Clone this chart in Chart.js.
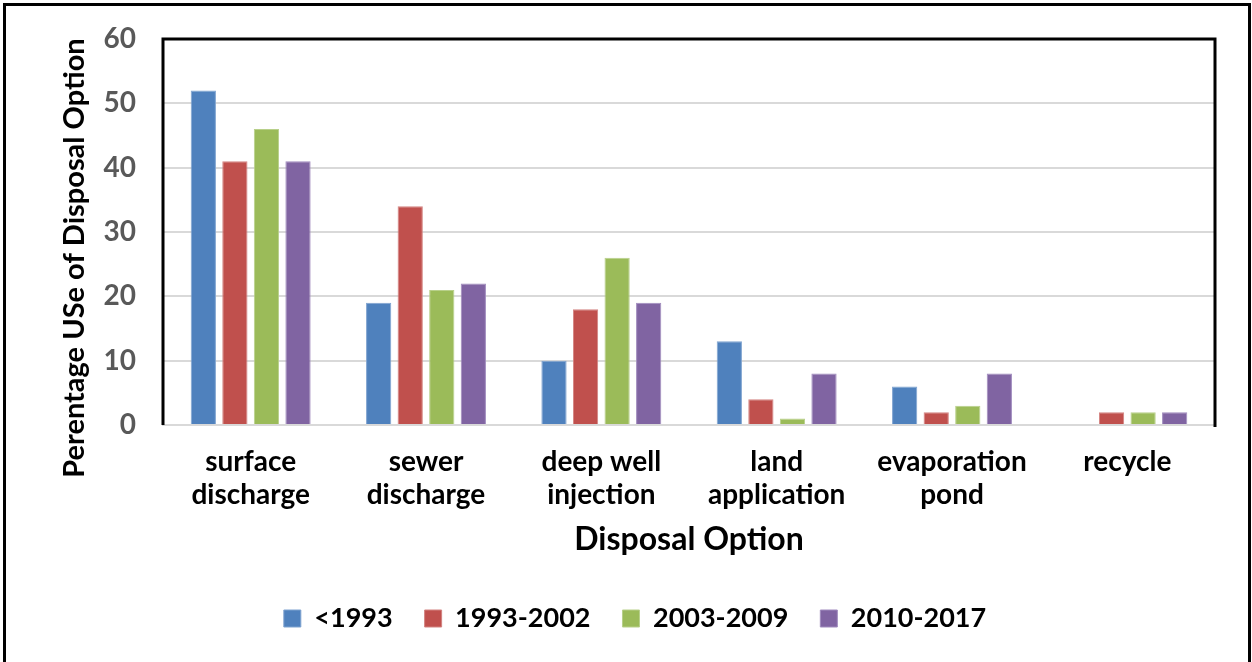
<!DOCTYPE html>
<html>
<head>
<meta charset="utf-8">
<script src="https://cdn.jsdelivr.net/npm/chart.js@4.4.1/dist/chart.umd.min.js"></script>
<style>
  html, body { margin: 0; padding: 0; background: #fff; overflow: hidden; }
  #wrap { position: relative; width: 1252px; height: 662px; }
  #frame { position: absolute; left: 3px; top: 3px; width: 1242px; height: 700px;
           border: 3px solid #000; pointer-events: none; }
  canvas { position: absolute; left: 0; top: 0; }
</style>
</head>
<body>
<div id="wrap">
  <canvas id="chart" width="1252" height="662"></canvas>
  <div id="frame"></div>
</div>
<script>
// Disposal options (two-line category labels)
const categories = [
  ['surface', 'discharge'],
  ['sewer', 'discharge'],
  ['deep well', 'injection'],
  ['land', 'application'],
  ['evaporation', 'pond'],
  ['recycle']
];

// Period series: percentage use of each disposal option
const seriesNames = ['<1993', '1993-2002', '2003-2009', '2010-2017'];
const before1993 = [52, 19, 10, 13, 6, 0];
const p1993to2002 = [41, 34, 18, 4, 2, 2];
const p2003to2009 = [46, 21, 26, 1, 3, 2];
const p2010to2017 = [41, 22, 19, 8, 8, 2];

const yTicks = [0, 10, 20, 30, 40, 50, 60];

const xTitle = 'Disposal Option';
const yTitle = 'Perentage USe of Disposal Option';

const FONT = 'Lato, "Open Sans", sans-serif';
const colors = ['#4F81BD', '#C0504D', '#9BBB59', '#8064A2'];
const edges = ['#7FA3D0', '#D38381', '#B8D08A', '#A08BBE'];
const values = [before1993, p1993to2002, p2003to2009, p2010to2017];

const PAD_LEFT = 55;
const PAD_RIGHT = 37;
const PAD_BOTTOM = 20;
const PLOT_LEFT = 163;
const PLOT_TOP = 39;
const PLOT_BOTTOM = 425;

// Plot frame: black top, left and right edges; axis titles
const framePlugin = {
  id: 'frameAndTitles',
  afterDraw(chart) {
    const { ctx, chartArea: a } = chart;
    ctx.save();
    ctx.strokeStyle = '#000';
    ctx.lineWidth = 3;
    ctx.beginPath();
    ctx.moveTo(a.left, a.bottom);
    ctx.lineTo(a.left, a.top);
    ctx.lineTo(a.right, a.top);
    ctx.lineTo(a.right, a.bottom + 2);
    ctx.stroke();

    ctx.fillStyle = '#000';
    ctx.textAlign = 'center';
    ctx.textBaseline = 'middle';
    ctx.font = 'bold 32px ' + FONT;
    ctx.fillText(xTitle, (a.left + a.right) / 2, 540);

    ctx.font = 'bold 29px ' + FONT;
    ctx.translate(75, 258);
    ctx.rotate(-Math.PI / 2);
    ctx.fillText(yTitle, 0, 0);
    ctx.restore();
  }
};

new Chart(document.getElementById('chart'), {
  type: 'bar',
  data: {
    labels: categories,
    datasets: seriesNames.map((name, i) => ({
      label: name,
      data: values[i],
      backgroundColor: colors[i],
      borderColor: edges[i],
      borderWidth: 1,
      categoryPercentage: 0.72,
      barPercentage: 0.8
    }))
  },
  options: {
    responsive: false,
    animation: false,
    devicePixelRatio: 1,
    layout: { padding: { top: PLOT_TOP, right: PAD_RIGHT, left: PAD_LEFT, bottom: PAD_BOTTOM } },
    plugins: {
      tooltip: { enabled: false },
      legend: {
        position: 'bottom',
        labels: {
          color: '#000',
          font: { family: FONT, size: 27, weight: 'bold' },
          boxWidth: 17,
          boxHeight: 17,
          padding: 32
        }
      }
    },
    scales: {
      x: {
        grid: { display: false, drawTicks: false },
        border: { display: true, color: '#D9D9D9', width: 2 },
        ticks: {
          color: '#000',
          font: { family: FONT, size: 28, weight: 'bold', lineHeight: 1.18 },
          padding: 20,
          maxRotation: 0,
          autoSkip: false
        },
        afterFit(scale) {
          const legendH = scale.chart.legend ? scale.chart.legend.height : 0;
          scale.height = scale.chart.height - PAD_BOTTOM - legendH - PLOT_BOTTOM;
          scale.paddingLeft = 0;
          scale.paddingRight = 0;
        }
      },
      y: {
        min: 0,
        max: 60,
        afterBuildTicks(scale) {
          scale.ticks = yTicks.map(v => ({ value: v }));
        },
        grid: { color: '#D9D9D9', lineWidth: 2, drawTicks: false },
        border: { display: false },
        ticks: {
          color: '#595959',
          font: { family: FONT, size: 28, weight: 'bold' },
          padding: 27
        },
        afterFit(scale) {
          scale.width = PLOT_LEFT - PAD_LEFT;
          scale.paddingTop = 0;
          scale.paddingBottom = 0;
        }
      }
    }
  },
  plugins: [framePlugin]
});
</script>
</body>
</html>
